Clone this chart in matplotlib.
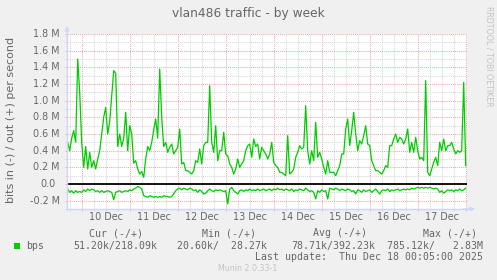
import numpy as np
import pandas as pd
import matplotlib
matplotlib.use('Agg')
import matplotlib.pyplot as plt
import matplotlib.dates as mdates
import matplotlib.transforms as mtransforms
from matplotlib.patches import Rectangle
from matplotlib.ticker import MultipleLocator

# ---------------- data ----------------
times = pd.date_range('2025-12-09 17:00', '2025-12-18 00:00', freq='h')

# outgoing traffic (positive), in Mbit/s
out_mbps = [
    0.50, 0.40, 0.55, 0.64, 0.50, 1.50, 1.10,
    0.50, 0.20, 0.45, 0.18, 0.38, 0.20, 0.28, 0.18, 0.30, 0.40,
    0.60, 0.80, 0.92, 0.60, 0.75, 1.05, 1.36, 1.33, 0.45, 0.60,
    0.45, 0.55, 0.86, 0.40, 0.70, 0.60, 0.25, 0.28, 0.18, 0.12,
    0.15, 0.08, 0.30, 0.45, 0.40, 0.50, 0.65, 0.78, 0.55, 1.38,
    0.80, 0.45, 0.50, 0.38, 0.44, 0.48, 0.36, 0.40, 0.44, 0.66,
    0.24, 0.26, 0.16, 0.16, 0.14, 0.12, 0.16, 0.28, 0.26, 0.42,
    0.24, 0.46, 0.50, 0.50, 1.18, 0.50, 0.38, 0.70, 0.28, 0.40,
    0.40, 0.62, 0.36, 0.34, 0.24, 0.20, 0.12, 0.18, 0.30, 0.20,
    0.24, 0.28, 0.40, 0.46, 0.48, 0.32, 0.54, 0.45, 0.48, 0.30,
    0.44, 0.40, 0.36, 0.30, 0.36, 0.50, 0.26, 0.22, 0.20, 0.14,
    0.14, 0.12, 0.10, 0.58, 0.12, 0.14, 0.18, 0.32, 0.38, 0.46,
    0.42, 0.44, 0.94, 0.40, 0.24, 0.40, 0.28, 0.74, 0.32, 0.38,
    0.30, 0.20, 0.12, 0.28, 0.14, 0.14, 0.14, 0.10, 0.16, 0.22,
    0.36, 0.36, 0.66, 0.78, 0.46, 0.64, 0.86, 0.60, 0.40, 0.52,
    0.48, 0.58, 0.70, 0.48, 0.46, 0.28, 0.22, 0.16, 0.16, 0.14,
    0.12, 0.16, 0.22, 0.20, 0.46, 0.46, 0.54, 0.60, 0.50, 0.56,
    0.54, 0.48, 0.54, 0.66, 0.38, 0.50, 0.38, 0.56, 0.40, 0.30,
    0.32, 0.28, 1.24, 0.14, 0.10, 0.18, 0.26, 0.32, 0.22, 0.50,
    0.40, 0.54, 0.40, 0.46, 0.46, 0.50, 0.42, 0.36, 0.40, 0.38,
    0.40, 1.22, 0.22,
]

# incoming traffic (drawn negative), in Mbit/s
in_mbps = [
    -0.06, -0.10, -0.08, -0.11, -0.08, -0.10, -0.09,
    -0.10, -0.07, -0.09, -0.06, -0.08, -0.06, -0.07, -0.09, -0.08, -0.10,
    -0.08, -0.10, -0.09, -0.08, -0.09, -0.10, -0.19, -0.10, -0.09, -0.08,
    -0.10, -0.09, -0.08, -0.09, -0.07, -0.08, -0.06, -0.05, -0.03, -0.04,
    -0.06, -0.14, -0.15, -0.16, -0.14, -0.15, -0.16, -0.15, -0.16, -0.15,
    -0.16, -0.14, -0.15, -0.15, -0.16, -0.15, -0.12, -0.08, -0.06, -0.05,
    -0.07, -0.05, -0.06, -0.07, -0.05, -0.06, -0.08, -0.07, -0.10, -0.07,
    -0.09, -0.12, -0.11, -0.08, -0.06, -0.08, -0.09, -0.07, -0.08, -0.07,
    -0.08, -0.09, -0.08, -0.24, -0.06, -0.04, -0.08, -0.10, -0.12, -0.08,
    -0.07, -0.09, -0.07, -0.08, -0.06, -0.08, -0.07, -0.08, -0.06, -0.08,
    -0.07, -0.06, -0.08, -0.07, -0.06, -0.08, -0.06, -0.07, -0.05, -0.07,
    -0.06, -0.08, -0.06, -0.07, -0.08, -0.06, -0.09, -0.07, -0.08, -0.06,
    -0.07, -0.08, -0.05, -0.07, -0.09, -0.08, -0.10, -0.18, -0.08, -0.10,
    -0.07, -0.09, -0.08, -0.18, -0.05, -0.06, -0.07, -0.05, -0.06, -0.08,
    -0.06, -0.07, -0.08, -0.06, -0.07, -0.09, -0.08, -0.12, -0.07, -0.08,
    -0.10, -0.07, -0.09, -0.08, -0.07, -0.10, -0.08, -0.06, -0.09, -0.12,
    -0.08, -0.07, -0.08, -0.06, -0.09, -0.07, -0.08, -0.07, -0.06, -0.08,
    -0.07, -0.06, -0.07, -0.06, -0.07, -0.05, -0.06, -0.05, -0.04, -0.05,
    -0.04, -0.05, -0.04, -0.05, -0.04, -0.05, -0.06, -0.05, -0.06, -0.10,
    -0.08, -0.11, -0.09, -0.07, -0.08, -0.07, -0.09, -0.07, -0.08, -0.06,
    -0.08, -0.07, -0.05,
]

y_ticks = [-0.2, 0.0, 0.2, 0.4, 0.6, 0.8, 1.0, 1.2, 1.4, 1.6, 1.8]
y_labels = ['-0.2 M', '0.0', '0.2 M', '0.4 M', '0.6 M', '0.8 M', '1.0 M',
            '1.2 M', '1.4 M', '1.6 M', '1.8 M']
day_labels = ['10 Dec', '11 Dec', '12 Dec', '13 Dec', '14 Dec', '15 Dec', '16 Dec', '17 Dec']
day_centers = pd.date_range('2025-12-10 12:00', periods=len(day_labels), freq='D')

legend_headers = ['Cur (-/+)', 'Min (-/+)', 'Avg (-/+)', 'Max (-/+)']
legend_values = ['51.20k/218.09k', '20.60k/  28.27k', '78.71k/392.23k', '785.12k/   2.83M']
series_name = 'bps'
title = 'vlan486 traffic - by week'
ylabel = 'bits in (-) / out (+) per second'
last_update = 'Last update:  Thu Dec 18 00:05:00 2025'

# ---------------- style ----------------
W, H = 497, 280
BACK = '#F0F0F0'
FONT = '#666666'
AXIS = '#CFD6F8'
GREEN = '#00CC00'
GRID = '#D6D6D6'
MGRID = '#F0A8A8'

def fx(px):
    return px / W

def fy(py):
    return 1 - py / H

fig = plt.figure(figsize=(W / 100, H / 100), dpi=100, facecolor=BACK)
ax = fig.add_axes([fx(67), fy(209), 400 / W, 175 / H], facecolor='white')

t0 = pd.Timestamp('2025-12-10 00:00')
ax.set_xlim(t0 - pd.Timedelta(hours=7.35), t0 + pd.Timedelta(hours=192.65))
ax.set_ylim(-0.3, 1.8)

ax.xaxis.set_major_locator(mdates.DayLocator())
ax.xaxis.set_minor_locator(mdates.HourLocator(byhour=[6, 12, 18]))
ax.yaxis.set_major_locator(MultipleLocator(0.2))
ax.yaxis.set_minor_locator(MultipleLocator(0.1))
dot = (0, (1, 1))
ax.grid(which='minor', color=GRID, linestyle=dot, linewidth=0.75)
ax.grid(which='major', color=MGRID, linestyle=dot, linewidth=0.75)
ax.set_axisbelow(True)
ax.tick_params(which='both', direction='out', length=1.5, width=0.7,
               labelbottom=False, labelleft=False)
ax.tick_params(which='major', color=MGRID)
ax.tick_params(which='minor', color=GRID)

for s in ['top', 'right']:
    ax.spines[s].set_visible(False)
for s in ['left', 'bottom']:
    ax.spines[s].set_color(AXIS)
    ax.spines[s].set_linewidth(1.0)

# arrows at axis ends
ax.annotate('', xy=(0, 1 + 8 / 175), xytext=(0, 0.98), xycoords='axes fraction',
            arrowprops=dict(arrowstyle='-|>', color=AXIS, lw=1.0, mutation_scale=6,
                            shrinkA=0, shrinkB=0), annotation_clip=False)
ax.annotate('', xy=(1 + 8 / 400, 0), xytext=(0.99, 0), xycoords='axes fraction',
            arrowprops=dict(arrowstyle='-|>', color=AXIS, lw=1.0, mutation_scale=6,
                            shrinkA=0, shrinkB=0), annotation_clip=False)

# data
ax.plot(times, out_mbps, color=GREEN, linewidth=0.9, solid_joinstyle='round')
ax.plot(times, in_mbps, color=GREEN, linewidth=0.9, solid_joinstyle='round')
ax.axhline(0, color='black', linewidth=1.3)

# y tick labels
tr_y = mtransforms.blended_transform_factory(ax.transAxes, ax.transData)
for v, lab in zip(y_ticks, y_labels):
    xr = 59.8 if 'M' in lab else 55.5
    ax.text((xr - 67) / 400, v, lab, transform=tr_y, ha='right', va='center',
            fontsize=6.9, color=FONT, family='DejaVu Sans')

# x tick labels
tr_x = mtransforms.blended_transform_factory(ax.transData, ax.transAxes)
for t, lab in zip(day_centers, day_labels):
    ax.text(t, -(216.7 - 209) / 175, lab, transform=tr_x, ha='center', va='center',
            fontsize=6.9, color=FONT, family='DejaVu Sans')

# title, y label, watermark
fig.text(fx(248), fy(13), title, ha='center', va='center', fontsize=8.8,
         color=FONT, family='DejaVu Sans')
fig.text(fx(11), fy(119.5), ylabel, ha='center', va='center', rotation=90,
         fontsize=8.0, color=FONT, family='DejaVu Sans')
fig.text(fx(488.5), fy(56.5), 'RRDTOOL / TOBI OETIKER', ha='center', va='center',
         rotation=270, fontsize=5.7, color='#C4C4C4', family='DejaVu Sans')

# legend
fig.patches.append(Rectangle((fx(14), fy(248.5)), 6 / W, 6 / H, transform=fig.transFigure,
                             facecolor=GREEN, edgecolor='none'))
mono = 'DejaVu Sans Mono'
fig.text(fx(26.5), fy(245.7), series_name, ha='left', va='center', fontsize=7.1,
         color=FONT, family=mono)
for xl, txt in zip([89.3, 201.7, 312.7, 423.0], legend_headers):
    fig.text(fx(xl), fy(233.3), txt, ha='left', va='center', fontsize=7.1,
             color=FONT, family=mono)
for xr, txt in zip([157.7, 266.7, 375.0, 483.3], legend_values):
    fig.text(fx(xr), fy(245.7), txt, ha='right', va='center', fontsize=7.1,
             color=FONT, family=mono)
fig.text(fx(483.3), fy(257.3), last_update, ha='right', va='center', fontsize=7.1,
         color=FONT, family=mono)
fig.text(fx(248), fy(268.3), 'Munin 2.0.33-1', ha='center', va='center', fontsize=5.7,
         color='#C4C4C4', family='DejaVu Sans')

fig.savefig('out.png', dpi=100, facecolor=BACK)
